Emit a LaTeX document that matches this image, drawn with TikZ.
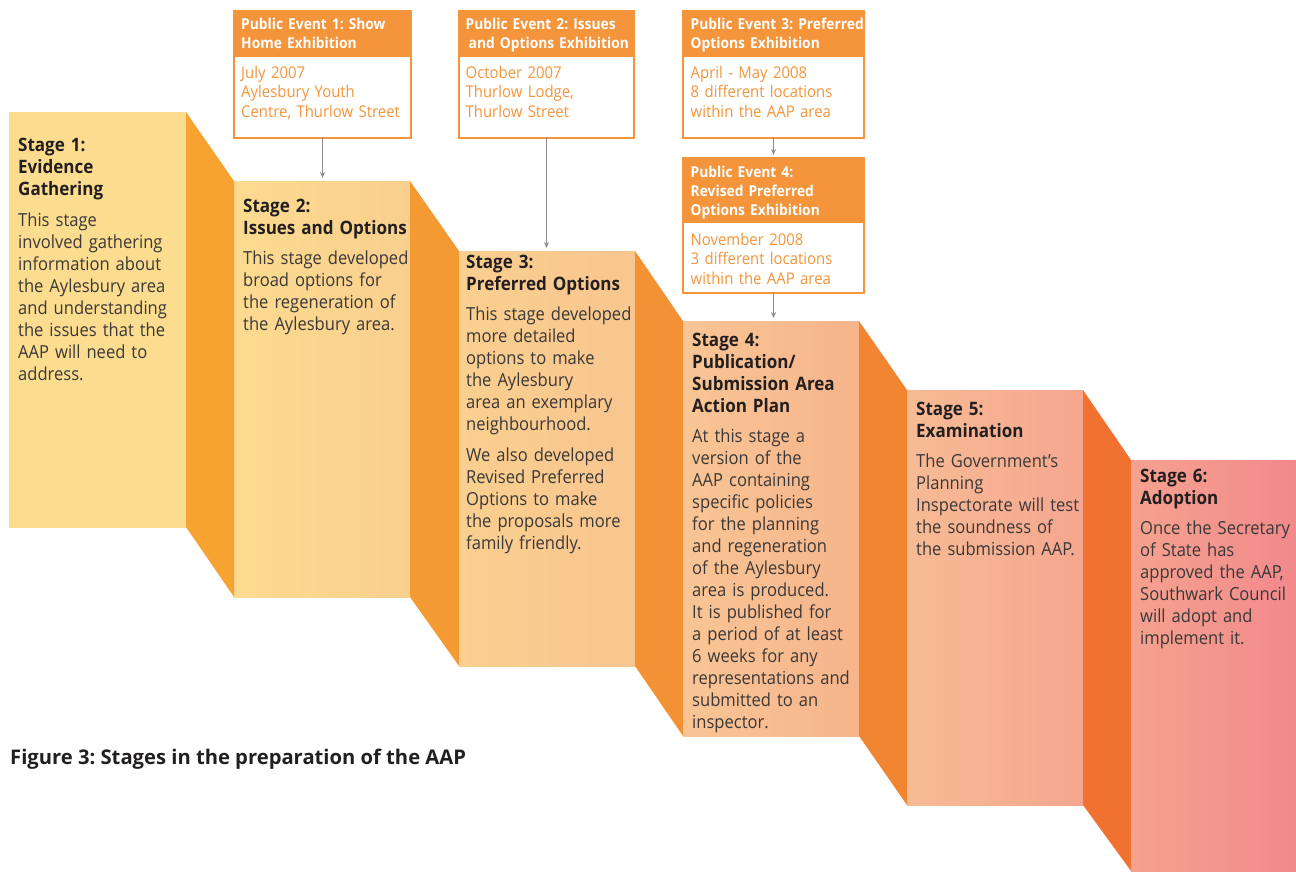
\documentclass[tikz,border=0pt]{standalone}
\usepackage{fontspec}
\setmainfont{Open Sans}[FakeStretch=0.92]
\newfontfamily\capfont{Open Sans}
\usetikzlibrary{arrows.meta,calc}
\frenchspacing

\definecolor{evor}{HTML}{F4953B}
\definecolor{arrgray}{HTML}{8C8C8C}
\definecolor{ink}{HTML}{231F20}
\definecolor{bodyink}{HTML}{3A3838}
% stage panels
\definecolor{p1a}{HTML}{FCDC8E}\definecolor{p1b}{HTML}{FCDC8E}
\definecolor{p2a}{HTML}{FCDB8F}\definecolor{p2b}{HTML}{F9CF8E}
\definecolor{p3a}{HTML}{FACF8F}\definecolor{p3b}{HTML}{F8C690}
\definecolor{p4a}{HTML}{F9C594}\definecolor{p4b}{HTML}{F6B48C}
\definecolor{p5a}{HTML}{F7BB94}\definecolor{p5b}{HTML}{F5A690}
\definecolor{p6a}{HTML}{F5A28F}\definecolor{p6b}{HTML}{F2898C}
% folds
\definecolor{f1}{HTML}{F6A331}
\definecolor{f2}{HTML}{F49A32}
\definecolor{f3}{HTML}{F39234}
\definecolor{f4}{HTML}{F28531}
\definecolor{f5}{HTML}{F07130}

\begin{document}
\begin{tikzpicture}[x=1pt,y=-1pt,
  panel/.style={anchor=north west, inner sep=0, outer sep=0},
  evbox/.style={anchor=north west, inner sep=0, outer sep=0, draw=evor, line width=1.4pt, fill=white},
  evhead/.style={anchor=north west, inner sep=0, outer sep=0, fill=evor},
  stagetxt/.style={anchor=north west, inner sep=0, text width=200pt, align=left,
    text=bodyink, font=\fontsize{18}{22}\selectfont},
  headtxt/.style={anchor=north west, inner sep=0, text width=200pt, align=left,
    text=white, font=\bfseries\fontsize{15}{19}\selectfont},
  evtxt/.style={anchor=north west, inner sep=0, text width=200pt, align=left,
    text=evor, font=\fontsize{16.2}{19.5}\selectfont},
  arr/.style={draw=arrgray, line width=1.3pt, -{Stealth[length=6pt,width=5pt]}, shorten >=3pt}
]
\useasboundingbox (0,0) rectangle (1296,871);

\newcommand{\ttl}{\color{ink}\bfseries\fontsize{18.5}{22}\selectfont}
\newcommand{\bdy}{\color{bodyink}\mdseries\fontsize{18}{22}\selectfont}

% stage panels
\node[panel, minimum width=177pt, minimum height=415pt, left color=p1a, right color=p1b] (st1) at (9,112) {};
\node[panel, minimum width=176pt, minimum height=416pt, left color=p2a, right color=p2b] (st2) at (234,181) {};
\node[panel, minimum width=176pt, minimum height=415pt, left color=p3a, right color=p3b] (st3) at (459,251) {};
\node[panel, minimum width=176pt, minimum height=415pt, left color=p4a, right color=p4b] (st4) at (683,321) {};
\node[panel, minimum width=176pt, minimum height=415pt, left color=p5a, right color=p5b] (st5) at (907,390) {};
\node[panel, minimum width=165pt, minimum height=411pt, left color=p6a, right color=p6b] (st6) at (1131,460) {};

% folds between panels
\fill[f1] (st1.north east) -- (st2.north west) -- (st2.south west) -- (st1.south east) -- cycle;
\fill[f2] (st2.north east) -- (st3.north west) -- (st3.south west) -- (st2.south east) -- cycle;
\fill[f3] (st3.north east) -- (st4.north west) -- (st4.south west) -- (st3.south east) -- cycle;
\fill[f4] (st4.north east) -- (st5.north west) -- (st5.south west) -- (st4.south east) -- cycle;
\fill[f5] (st5.north east) -- (st6.north west) -- (st6.south west) -- (st5.south east) -- cycle;

% stage texts
\node[stagetxt] (t1) at (18,136.1) {\strut\ttl Stage 1:\\Evidence\\Gathering\\[8.5pt]\bdy
  This stage\\involved gathering\\information about\\the Aylesbury area\\and understanding\\the issues that the\\AAP will need to\\address.};
\node[stagetxt] (t2) at (243,197.3) {\strut\ttl Stage 2:\\Issues and Options\\[8pt]\bdy
  This stage developed\\broad options for\\the regeneration of\\the Aylesbury area.};
\node[stagetxt] (t3) at (466,252.9) {\strut\ttl Stage 3:\\Preferred Options\\[8pt]\bdy
  This stage developed\\more detailed\\options to make\\the Aylesbury\\area an exemplary\\neighbourhood.\\[9pt]
  We also developed\\Revised Preferred\\Options to make\\the proposals more\\family friendly.};
\node[stagetxt] (t4) at (692,331.3) {\strut\ttl Stage 4:\\Publication/\\Submission Area\\Action Plan\\[8pt]\bdy
  At this stage a\\version of the\\AAP containing\\specific policies\\for the planning\\and regeneration\\of the Aylesbury\\area is produced.\\It is published for\\a period of at least\\6 weeks for any\\representations and\\submitted to an\\inspector.};
\node[stagetxt] (t5) at (916,400.3) {\strut\ttl Stage 5:\\Examination\\[8pt]\bdy
  The Government’s\\Planning\\Inspectorate will test\\the soundness of\\the submission AAP.};
\node[stagetxt] (t6) at (1140,467.3) {\strut\ttl Stage 6:\\Adoption\\[8pt]\bdy
  Once the Secretary\\of State has\\approved the AAP,\\Southwark Council\\will adopt and\\implement it.};

% public event boxes
\node[evbox, minimum width=177pt, minimum height=127pt] (e1) at (234,11) {};
\node[evhead, minimum width=177pt, minimum height=46pt] (e1h) at (e1.north west) {};
\node[evbox, minimum width=175pt, minimum height=127pt] (e2) at (459,11) {};
\node[evhead, minimum width=175pt, minimum height=46pt] (e2h) at (e2.north west) {};
\node[evbox, minimum width=181pt, minimum height=127pt] (e3) at (683,11) {};
\node[evhead, minimum width=181pt, minimum height=46pt] (e3h) at (e3.north west) {};
\node[evbox, minimum width=181pt, minimum height=135pt] (e4) at (683,158) {};
\node[evhead, minimum width=181pt, minimum height=65pt] (e4h) at (e4.north west) {};

\node[headtxt] (h1) at (241,16.2) {\strut Public Event 1: Show\\Home Exhibition};
\node[evtxt] (b1) at (241,64.5) {\strut July 2007\\Aylesbury Youth\\Centre, Thurlow Street};
\node[headtxt] (h2) at (465.5,16.2) {\strut Public Event 2: Issues\\\hspace*{3pt}and Options Exhibition};
\node[evtxt] (b2) at (465.5,64.5) {\strut October 2007\\Thurlow Lodge,\\Thurlow Street};
\node[headtxt] (h3) at (690.5,16.2) {\strut Public Event 3: Preferred\\Options Exhibition};
\node[evtxt] (b3) at (690.5,64.5) {\strut April - May 2008\\8 different locations\\within the AAP area};
\node[headtxt] (h4) at (690.5,163.6) {\strut Public Event 4:\\Revised Preferred\\Options Exhibition};
\node[evtxt] (b4) at (690.5,231.3) {\strut November 2008\\3 different locations\\within the AAP area};

% connectors
\draw[arr] (e1.south) -- (e1.south |- st2.north);
\draw[arr] (e2.south) -- (e2.south |- st3.north);
\draw[arr] (e3.south) -- (e4.north);
\draw[arr] (e4.south) -- (e4.south |- st4.north);

% caption
\node[anchor=base west, inner sep=0, text=ink, font=\capfont\bfseries\fontsize{20.2}{24}\selectfont] (cap) at (10,764)
  {Figure 3: Stages in the preparation of the AAP};
\end{tikzpicture}
\end{document}
